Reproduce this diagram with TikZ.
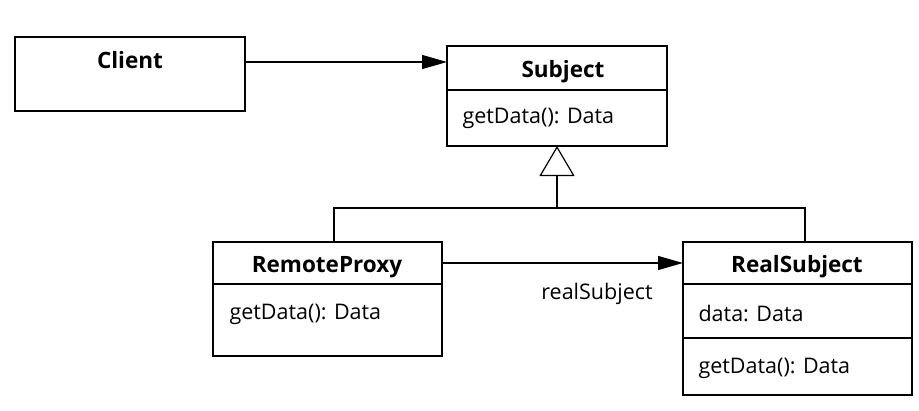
\documentclass[tikz,border=0pt]{standalone}
\usepackage{fontspec}
\setmainfont{Open Sans}
\usetikzlibrary{arrows.meta,calc}
\begin{document}
\begin{tikzpicture}[x=1pt,y=-1pt,
  box/.style={draw,line width=1.5pt,anchor=north west,inner sep=0pt,outer sep=0pt},
  title/.style={font=\fontsize{22.5}{26}\selectfont\bfseries,anchor=base},
  member/.style={font=\fontsize{21.5}{26}\selectfont,anchor=base west},
  assoc/.style={line width=1.2pt,-{Triangle[length=25pt,width=14pt]}},
  gen/.style={line width=1.2pt,-{Triangle[open,length=30pt,width=35pt,line width=1.2pt]}},
  conn/.style={line width=1.2pt}]
\useasboundingbox (0,0) rectangle (919,410);
% boxes
\node[box,minimum width=230pt,minimum height=74pt] (client) at (15,37) {};
\node[box,minimum width=220pt,minimum height=100pt] (subject) at (447,46) {};
\node[box,minimum width=229pt,minimum height=114pt] (proxy) at (213,242) {};
\node[box,minimum width=229pt,minimum height=153pt] (real) at (683,242) {};
% dividers
\draw[line width=1.2pt] (447,90) -- (667,90);
\draw[line width=1.2pt] (213,284) -- (442,284);
\draw[line width=1.2pt] (683,284) -- (912,284);
\draw[line width=1.2pt] (683,338) -- (912,338);
% texts
\node[title] (tclient) at (130,68) {Client};
\node[title] (tsubject) at (563,77) {Subject};
\node[member] (msubject) at (459,123) {getData(): Data};
\node[title] (tproxy) at (327,272) {RemoteProxy};
\node[member] (mproxy) at (226,319) {getData(): Data};
\node[title] (treal) at (797,272) {RealSubject};
\node[member] (mreal1) at (695,321) {data: Data};
\node[member] (mreal2) at (695,373) {getData(): Data};
\node[font=\fontsize{21.5}{26}\selectfont,anchor=base] (lbl) at (597,299) {realSubject};
% connectors
\coordinate (cs) at (245,62);
\coordinate (ce) at (447,62);
\draw[assoc] (cs) -- (ce);
\coordinate (ps) at (442,263);
\coordinate (pe) at (683,263);
\draw[assoc] (ps) -- (pe);
\coordinate (jn) at (557,208);
\coordinate (pt) at (334,242);
\coordinate (rt) at (805,242);
\draw[conn] (pt) |- (jn) -| (rt);
\draw[gen] (jn) -- (subject.south);
\end{tikzpicture}
\end{document}
